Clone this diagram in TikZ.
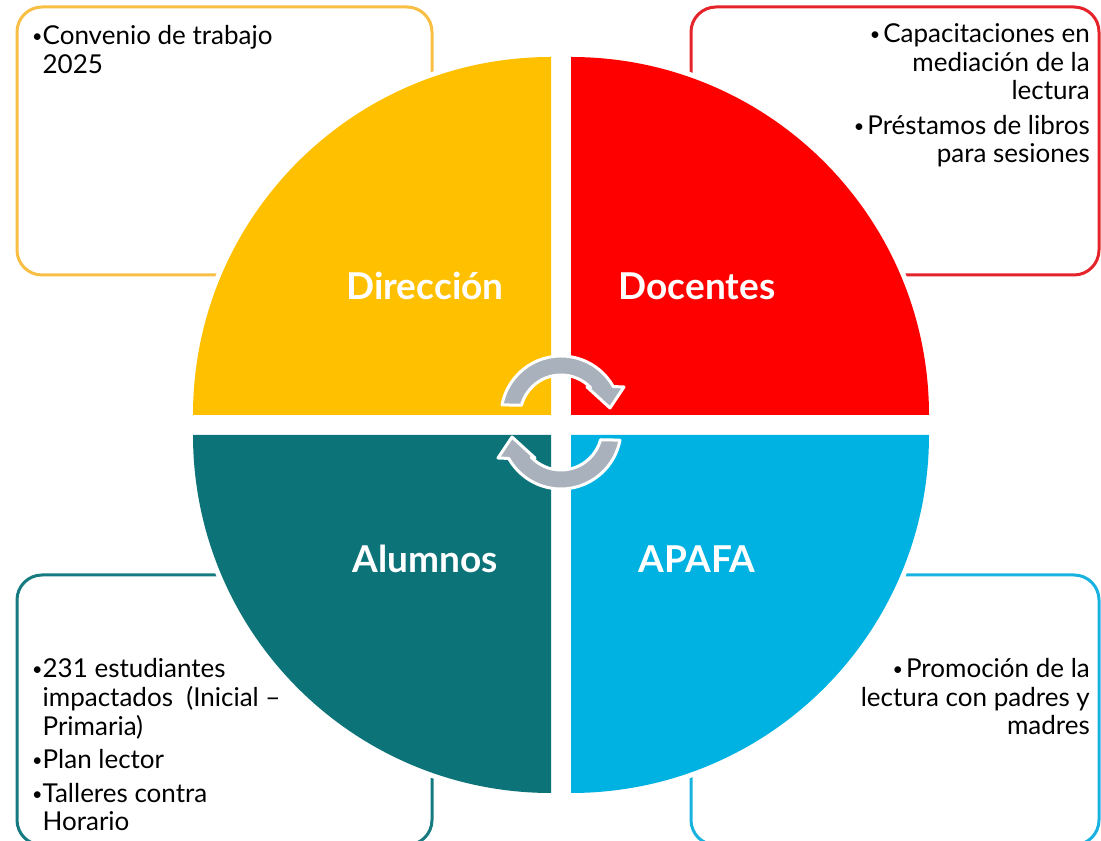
\documentclass[tikz,border=0pt]{standalone}
\usepackage{fontspec}
\setmainfont{Lato}
\definecolor{amarillo}{HTML}{FFC000}
\definecolor{rojo}{HTML}{FF0000}
\definecolor{verde}{HTML}{0C7378}
\definecolor{celeste}{HTML}{00B2E2}
\definecolor{bordeam}{HTML}{F8BF44}
\definecolor{borderoj}{HTML}{E5232A}
\definecolor{bordeve}{HTML}{167B80}
\definecolor{bordece}{HTML}{18B2E0}
\definecolor{gris}{HTML}{A9B2BC}
\newcommand\vineta{\raisebox{2pt}{\fontsize{18}{18}\selectfont •}\hspace{3pt}}
\begin{document}
\begin{tikzpicture}[x=1pt,y=1pt,
	caja/.style={line width=3pt,rounded corners=25pt},
	titulo/.style={text=white,font=\fontsize{37}{37}\selectfont\bfseries,inner sep=0pt,anchor=base},
	lista/.style={font=\fontsize{26}{28.5}\selectfont,inner sep=0pt},
	flecha/.style={fill=gris,draw=white,line width=3pt,line join=round}]
	\useasboundingbox (0,0) rectangle (1101,841);
	\draw[caja,bordeam]  (17,566) rectangle (432,834);
	\draw[caja,borderoj] (691,566) rectangle (1099,834);
	\draw[caja,bordeve]  (17,-4) rectangle (432,266);
	\draw[caja,bordece]  (691,-4) rectangle (1099,266);
	\fill[white] (551,426)--++(180:363) arc[start angle=180,end angle=90,radius=363]--cycle
		(571,426)--++(0:363) arc[start angle=0,end angle=90,radius=363]--cycle
		(551,406)--++(180:363) arc[start angle=180,end angle=270,radius=363]--cycle
		(571,406)--++(0:363) arc[start angle=0,end angle=-90,radius=363]--cycle;
	\fill[amarillo] (551,426)--++(180:358) arc[start angle=180,end angle=90,radius=358]--cycle;
	\fill[rojo]     (571,426)--++(0:358) arc[start angle=0,end angle=90,radius=358]--cycle;
	\fill[verde]    (551,406)--++(180:358) arc[start angle=180,end angle=270,radius=358]--cycle;
	\fill[celeste]  (571,406)--++(0:358) arc[start angle=0,end angle=-90,radius=358]--cycle;
	\foreach \giro in {0,180}
		\draw[flecha,rotate around={\giro:(561,418.5)},shift={(561,425)}]
			(169.3:60) arc[start angle=169.3,end angle=29.4,radius=60]
			--(63,29)--(49,8)--(26,29)--(43.6:41)
			arc[start angle=43.6,end angle=164.8,radius=41]--cycle;
	\node[titulo] (dir) at (425,541) {Dirección};
	\node[titulo] (doc) at (697,541) {Docentes};
	\node[titulo] (alu) at (425,268) {Alumnos};
	\node[titulo] (apa) at (697,268) {APAFA};
	\node[lista,anchor=base west] (tdir) at (32,796)
		{\begin{tabular}[t]{@{}l@{}l@{}}
			\vineta&Convenio de trabajo\\
			&2025
		\end{tabular}};
	\node[lista,anchor=base east] (tdoc) at (1090,798)
		{\begin{tabular}[t]{@{}r@{}}
			\vineta Capacitaciones en\\
			mediación de la\\
			lectura\\[6pt]
			\vineta Préstamos de libros\\
			para sesiones
		\end{tabular}};
	\node[lista,anchor=base west] (talu) at (32,163)
		{\begin{tabular}[t]{@{}l@{}l@{}}
			\vineta&231 estudiantes\\
			&impactados~ (Inicial --\\
			&Primaria)\\[5pt]
			\vineta&Plan lector\\[5pt]
			\vineta&Talleres contra\\
			&Horario
		\end{tabular}};
	\node[lista,anchor=base east] (tapa) at (1090,163)
		{\begin{tabular}[t]{@{}r@{}}
			\vineta Promoción de la\\
			lectura con padres y\\
			madres
		\end{tabular}};
\end{tikzpicture}
\end{document}
